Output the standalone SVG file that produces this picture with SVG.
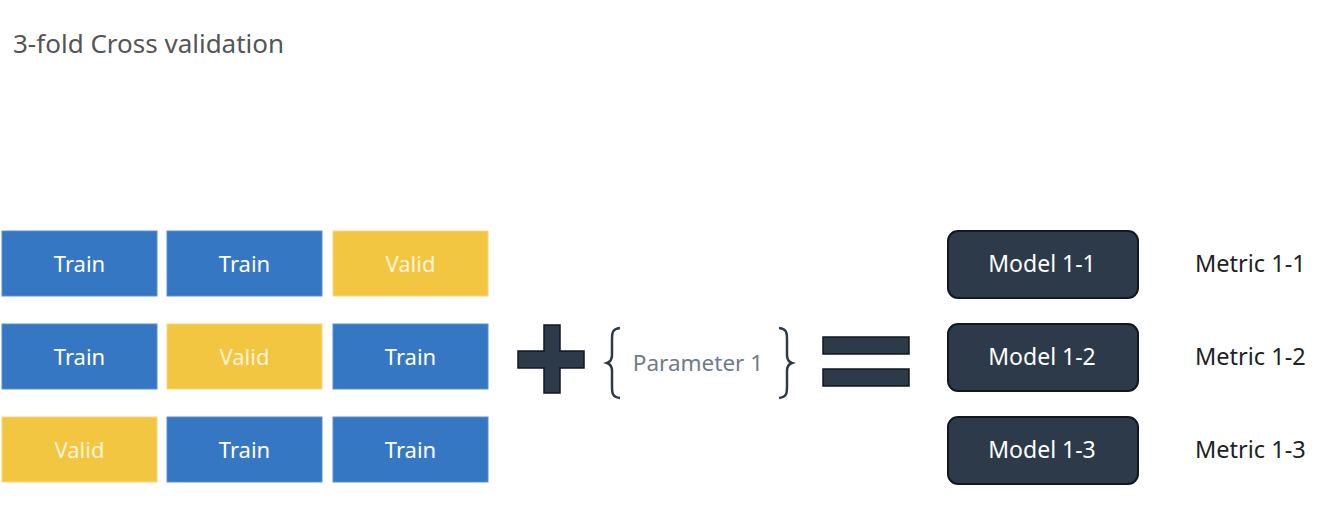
<svg xmlns="http://www.w3.org/2000/svg" width="1324" height="526" viewBox="0 0 1324 526">
<style>
.t{font-family:"Noto Sans","Liberation Sans",sans-serif;font-size:22px;text-anchor:middle}
.train{fill:#3677c4;stroke:#5b8fcf;stroke-width:1}
.valid{fill:#f3c642;stroke:#f7d67a;stroke-width:1}
.lw{fill:#ffffff}
.lv{fill:#fbf3d6}
.model{fill:#2c3a4a;stroke:#111820;stroke-width:2}
.mt{font-size:23px}
.sym{fill:#2c3a4a;stroke:#111820;stroke-width:1.5}
.metric{font-family:"Noto Sans","Liberation Sans",sans-serif;font-size:23.5px;fill:#222;text-anchor:start}
</style>
<rect width="1324" height="526" fill="#ffffff"/>
<text x="13" y="53" font-family="Noto Sans, Liberation Sans, sans-serif" font-size="26" fill="#555555">3-fold Cross validation</text>

<g id="r1c1"><rect class="train" x="2" y="231" width="155" height="65"/><text class="t lw" x="79.5" y="272">Train</text></g>
<g id="r1c2"><rect class="train" x="167" y="231" width="155" height="65"/><text class="t lw" x="244.5" y="272">Train</text></g>
<g id="r1c3"><rect class="valid" x="333" y="231" width="155" height="65"/><text class="t lv" x="410.5" y="272">Valid</text></g>

<g id="r2c1"><rect class="train" x="2" y="324" width="155" height="65"/><text class="t lw" x="79.5" y="365">Train</text></g>
<g id="r2c2"><rect class="valid" x="167" y="324" width="155" height="65"/><text class="t lv" x="244.5" y="365">Valid</text></g>
<g id="r2c3"><rect class="train" x="333" y="324" width="155" height="65"/><text class="t lw" x="410.5" y="365">Train</text></g>

<g id="r3c1"><rect class="valid" x="2" y="417" width="155" height="65"/><text class="t lv" x="79.5" y="458">Valid</text></g>
<g id="r3c2"><rect class="train" x="167" y="417" width="155" height="65"/><text class="t lw" x="244.5" y="458">Train</text></g>
<g id="r3c3"><rect class="train" x="333" y="417" width="155" height="65"/><text class="t lw" x="410.5" y="458">Train</text></g>

<g id="plus"><path class="sym" d="M544,325 H560 V351 H584 V368 H560 V393 H544 V368 H518 V351 H544 Z"/></g>

<g id="param">
<path d="M620,328 C612,329 612,333 612,340 L612,355 C612,360 610,362 607,363 C610,364 612,366 612,371 L612,386 C612,393 612,397 620,398" fill="none" stroke="#2c3a4a" stroke-width="2.5"/>
<path d="M779,328 C787,329 787,333 787,340 L787,355 C787,360 789,362 792,363 C789,364 787,366 787,371 L787,386 C787,393 787,397 779,398" fill="none" stroke="#2c3a4a" stroke-width="2.5"/>
<text x="698" y="371" font-family="Noto Sans, Liberation Sans, sans-serif" font-size="22.5" fill="#6f7b88" text-anchor="middle">Parameter 1</text>
</g>

<g id="equals">
<rect class="sym" x="823" y="337" width="86" height="17"/>
<rect class="sym" x="823" y="369" width="86" height="17"/>
</g>

<g id="m1"><rect class="model" x="948" y="231" width="190" height="67" rx="10"/><text class="t lw mt" x="1042" y="272">Model 1-1</text></g>
<g id="m2"><rect class="model" x="948" y="324" width="190" height="67" rx="10"/><text class="t lw mt" x="1042" y="365">Model 1-2</text></g>
<g id="m3"><rect class="model" x="948" y="417" width="190" height="67" rx="10"/><text class="t lw mt" x="1042" y="458">Model 1-3</text></g>

<g id="met1"><text class="metric" x="1195" y="272">Metric 1-1</text></g>
<g id="met2"><text class="metric" x="1195" y="365">Metric 1-2</text></g>
<g id="met3"><text class="metric" x="1195" y="458">Metric 1-3</text></g>
<g id="connectors"></g>
</svg>
